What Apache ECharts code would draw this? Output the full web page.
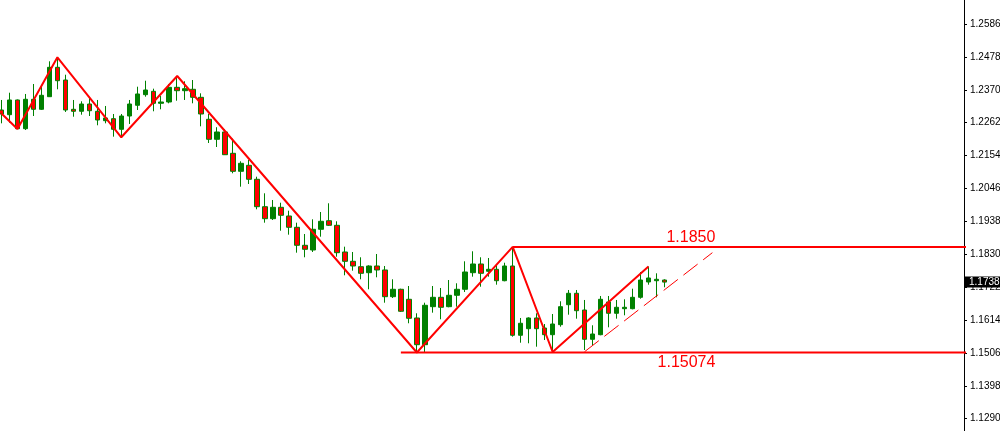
<!DOCTYPE html>
<html>
<head>
<meta charset="utf-8">
<script src="https://cdn.jsdelivr.net/npm/echarts@6/dist/echarts.min.js"></script>
<style>html,body{margin:0;padding:0;background:#fff;}#c{width:1000px;height:431px;}</style>
</head>
<body>
<div id="c"></div>
<script>
const opens = [1.23036,1.22882,1.23365,1.22422,1.23388,1.23059,1.23473,1.24438,1.24021,1.23059,1.22994,1.23233,1.22994,1.22685,1.22751,1.22402,1.22839,1.23191,1.23539,1.23650,1.23256,1.23299,1.23781,1.23670,1.23716,1.23453,1.22731,1.22074,1.22314,1.21614,1.21023,1.21220,1.20761,1.19861,1.19467,1.19841,1.19556,1.19185,1.18594,1.18439,1.19119,1.19401,1.19250,1.18374,1.18068,1.17891,1.17694,1.17914,1.17783,1.16906,1.17149,1.16821,1.16207,1.15330,1.16578,1.16886,1.16578,1.16952,1.17149,1.17694,1.17980,1.17740,1.17806,1.17431,1.17914,1.15639,1.15855,1.16207,1.15878,1.15658,1.15987,1.16643,1.17018,1.16469,1.15507,1.15658,1.16732,1.16361,1.16512,1.16512,1.16886,1.17389,1.17431,1.17454];
const highs = [1.23365,1.23604,1.23381,1.23562,1.23890,1.23801,1.24635,1.24767,1.24195,1.23365,1.23322,1.23430,1.23365,1.23168,1.22905,1.22905,1.23365,1.23801,1.23998,1.23736,1.23496,1.23890,1.24153,1.23979,1.24021,1.23584,1.22905,1.22471,1.22402,1.22094,1.21352,1.21394,1.20846,1.20301,1.20081,1.19992,1.19730,1.19336,1.18965,1.19447,1.19687,1.19973,1.19382,1.18548,1.18374,1.18200,1.17937,1.18308,1.17914,1.17477,1.17169,1.17257,1.16361,1.16709,1.17257,1.17192,1.17454,1.17346,1.18068,1.18397,1.18200,1.18177,1.17957,1.18022,1.18540,1.16207,1.16229,1.16361,1.16009,1.16338,1.16755,1.17126,1.17126,1.16798,1.15967,1.16929,1.16929,1.16798,1.16821,1.17169,1.17717,1.17897,1.17674,1.17477];
const lows = [1.22599,1.22619,1.22412,1.22379,1.22839,1.23036,1.23463,1.23716,1.22971,1.22816,1.22882,1.22839,1.22534,1.22599,1.22160,1.22140,1.22577,1.23036,1.23473,1.22994,1.23059,1.23256,1.23341,1.23365,1.23256,1.22501,1.21953,1.21821,1.21559,1.20958,1.20518,1.20606,1.19776,1.19336,1.19424,1.19073,1.18942,1.18351,1.18200,1.18374,1.18876,1.19227,1.18219,1.17609,1.17760,1.17477,1.17149,1.17543,1.16709,1.16863,1.16404,1.16033,1.15074,1.15080,1.16381,1.16164,1.16558,1.16578,1.17060,1.17563,1.17234,1.17563,1.17300,1.17412,1.15593,1.15395,1.15376,1.15264,1.15484,1.15090,1.15921,1.16315,1.16184,1.15156,1.15310,1.15639,1.15901,1.16184,1.16295,1.16492,1.16840,1.17300,1.16886,1.17215];
const closes = [1.22905,1.23365,1.22422,1.23388,1.23059,1.23519,1.24438,1.23998,1.23036,1.22994,1.23233,1.23013,1.22708,1.22774,1.22402,1.22839,1.23233,1.23562,1.23693,1.23256,1.23299,1.23781,1.23670,1.23736,1.23453,1.22905,1.22074,1.22314,1.21568,1.21023,1.21286,1.20761,1.19861,1.19467,1.19841,1.19579,1.19185,1.18594,1.18462,1.19119,1.19382,1.19250,1.18351,1.18068,1.17914,1.17674,1.17914,1.17783,1.16906,1.17149,1.16427,1.16197,1.15330,1.16624,1.16886,1.16558,1.16952,1.17149,1.17717,1.17980,1.17674,1.17806,1.17431,1.17914,1.15639,1.16033,1.16207,1.15855,1.15658,1.16009,1.16578,1.17018,1.16446,1.15507,1.15681,1.16821,1.16361,1.16558,1.16558,1.16886,1.17454,1.17520,1.17477,1.17385];

// zigzag pivots: [bar index, price]
const zigzag = [[0,1.22924],[2,1.22412],[7,1.24767],[15,1.22140],[22,1.24153],[52,1.15074],[64,1.18540],[69,1.15090],[81,1.17897]];
// horizontal levels: start bar, price, text
const levelStarts = [64, 50];
const levelPrices = [1.18540, 1.15074];
const levelTexts = ['1.1850', '1.15074'];
const levelTextBar = 89;
// dashed channel line
const channel = [[73,1.15100],[89,1.18351]];
const lastPrice = 1.17385;

const tickValues = [1.12900,1.13980,1.15060,1.16140,1.17220,1.18300,1.19380,1.20460,1.21540,1.22620,1.23700,1.24780,1.25860];
const yMin = 1.12496, yMax = 1.26648;
const visibleSlots = 121, totalSlots = 126;

const cats = [];
for (let i = 0; i < totalSlots; i++) cats.push(String(i));
const candleData = opens.map((o, i) => [o, closes[i], lows[i], highs[i]]);

const series = [{
  type: 'candlestick',
  data: candleData,
  barWidth: 5,
  itemStyle: { color: '#008000', color0: '#FF0000', borderColor: '#008000', borderColor0: '#008000', borderWidth: 1 },
  markLine: {
    silent: true, symbol: 'none', animation: false, precision: 5,
    lineStyle: { width: 0, color: 'rgba(0,0,0,0)' },
    data: [{ yAxis: lastPrice }],
    label: { show: true, position: 'end', distance: 1, formatter: lastPrice.toFixed(5), color: '#fff', backgroundColor: '#000',
      verticalAlign: 'middle', align: 'left', padding: [1, 2, 0, 4], fontFamily: 'Liberation Sans', fontSize: 10 }
  }
}, {
  type: 'line', data: zigzag, symbol: 'none', lineStyle: { color: '#FF0000', width: 2 }, z: 5
}, {
  type: 'line', data: channel, symbol: 'none', lineStyle: { color: '#FF0000', width: 1, type: [18, 7] }, z: 5
}];
levelPrices.forEach((p, k) => {
  series.push({
    type: 'line', symbol: 'none', z: 5,
    data: [[levelStarts[k], p], [totalSlots - 1, p]],
    lineStyle: { color: '#FF0000', width: 2 },
    markPoint: {
      symbol: 'circle', symbolSize: 0, silent: true,
      data: [{ coord: [levelTextBar, p] }],
      label: { show: true, position: 'inside', formatter: levelTexts[k], align: 'right', verticalAlign: 'middle',
        offset: [3, k === 0 ? -9 : 10], color: '#FF0000', fontFamily: 'Liberation Sans', fontSize: 16 }
    }
  });
});

const chart = echarts.init(document.getElementById('c'));
chart.setOption({
  animation: false,
  backgroundColor: '#fff',
  grid: { left: -2.5, right: 36, top: 0, bottom: 0, containLabel: false, outerBoundsMode: 'none' },
  xAxis: { type: 'category', data: cats, min: 0, max: visibleSlots - 1, boundaryGap: true, show: false },
  yAxis: {
    type: 'value', position: 'right', min: yMin, max: yMax, scale: true,
    splitLine: { show: false },
    axisLine: { show: true, lineStyle: { color: '#000', width: 1 } },
    axisTick: { show: true, length: 3, inside: false, customValues: tickValues, lineStyle: { color: '#000' } },
    axisLabel: { customValues: tickValues, formatter: v => v.toFixed(5), color: '#000', fontFamily: 'Liberation Sans', fontSize: 10, margin: 6 }
  },
  series: series
});
</script>
</body>
</html>
